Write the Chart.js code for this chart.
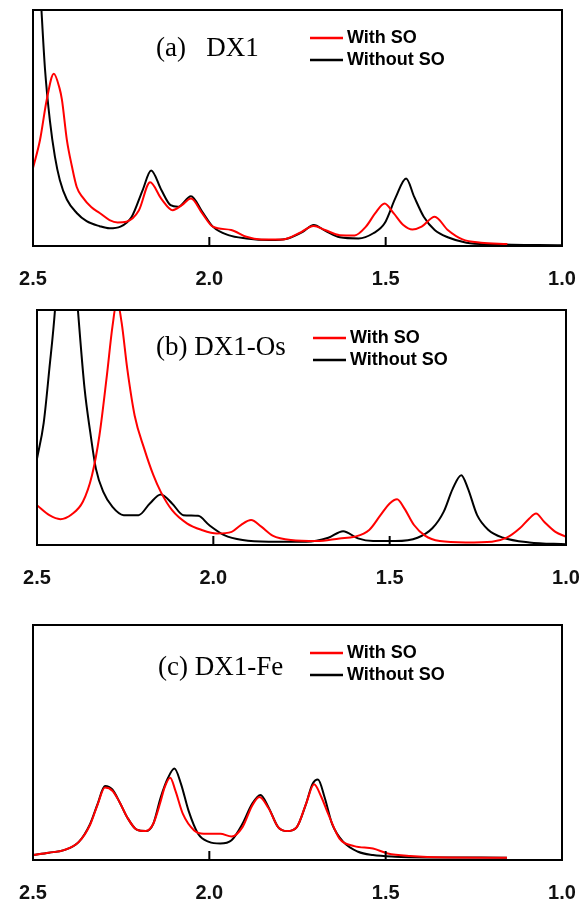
<!DOCTYPE html>
<html>
<head>
<meta charset="utf-8">
<script src="https://cdn.jsdelivr.net/npm/chart.js@4"></script>
<style>
  body { margin: 0; background: #fff; }
  canvas { display: block; }
</style>
</head>
<body>
<canvas id="chartA" width="585" height="300"></canvas>
<canvas id="chartB" width="585" height="300"></canvas>
<canvas id="chartC" width="585" height="305"></canvas>
<script>
// x ticks (energy axis, reversed)
xTicks = [2.5, 2.0, 1.5, 1.0]
seriesNames = ["With SO", "Without SO"]

// (a) DX1
aWithX = [2.5, 2.48, 2.461, 2.441, 2.425, 2.418, 2.404, 2.39, 2.376, 2.359, 2.335, 2.311, 2.283, 2.26, 2.235, 2.2, 2.168, 2.136, 2.104, 2.078, 2.052, 2.02, 1.99, 1.938, 1.895, 1.853, 1.79, 1.746, 1.704, 1.672, 1.63, 1.588, 1.556, 1.53, 1.503, 1.477, 1.45, 1.424, 1.398, 1.361, 1.324, 1.282, 1.23, 1.155]
aWithY = [33, 45, 62, 73, 67, 62, 45, 34, 25, 20.6, 16.5, 14, 11, 10, 10.3, 15, 27, 20, 15.2, 17.3, 20.1, 13.8, 8.2, 6.8, 3.9, 2.8, 2.8, 5.4, 8.5, 6.8, 4.6, 4.5, 8.2, 13.8, 18, 13.8, 8.9, 7, 8.2, 12.4, 6.8, 2.8, 1.4, 0.8]
aWithoutX = [2.49, 2.476, 2.466, 2.452, 2.438, 2.424, 2.404, 2.376, 2.348, 2.311, 2.283, 2.252, 2.22, 2.189, 2.165, 2.136, 2.11, 2.089, 2.052, 2.02, 1.99, 1.946, 1.895, 1.83, 1.777, 1.735, 1.704, 1.672, 1.63, 1.577, 1.535, 1.503, 1.471, 1.442, 1.419, 1.392, 1.361, 1.324, 1.271, 1.197, 1.0]
aWithoutY = [140, 100, 75, 53, 38, 28, 19.7, 14, 10.5, 8.4, 7.5, 8.2, 12.4, 23.7, 32, 23.7, 17.3, 16.6, 21.1, 14.5, 8.2, 4.6, 3.2, 2.5, 3.2, 6, 8.9, 6.5, 3.7, 3.2, 5.4, 9.6, 20.8, 28.6, 20.8, 12.4, 6.8, 3.7, 1.4, 0.7, 0.3]

// (b) DX1-Os
bWithX = [2.5, 2.465, 2.434, 2.402, 2.37, 2.344, 2.323, 2.302, 2.286, 2.273, 2.26, 2.244, 2.223, 2.196, 2.17, 2.149, 2.117, 2.075, 2.033, 1.99, 1.948, 1.922, 1.893, 1.864, 1.832, 1.78, 1.706, 1.642, 1.6, 1.558, 1.526, 1.5, 1.479, 1.458, 1.431, 1.4, 1.358, 1.284, 1.21, 1.168, 1.131, 1.104, 1.085, 1.062, 1.03, 1.0]
bWithY = [16.9, 12.7, 11, 13, 18.4, 29.7, 46.6, 72, 93, 104, 94.6, 74.9, 55, 41, 29.7, 22.6, 14.8, 9.2, 6.4, 4.9, 5.6, 8.5, 10.6, 7.8, 4, 2.1, 1.7, 2.8, 3.5, 6.4, 12.7, 17.7, 19.5, 15.5, 8.5, 4, 1.7, 1.1, 1.4, 3.1, 7.1, 11.3, 13.4, 9.9, 5.6, 3.5]
bWithoutX = [2.5, 2.481, 2.465, 2.449, 2.42, 2.384, 2.365, 2.349, 2.333, 2.312, 2.286, 2.254, 2.212, 2.18, 2.149, 2.117, 2.085, 2.043, 2.012, 1.969, 1.917, 1.843, 1.737, 1.674, 1.632, 1.59, 1.547, 1.484, 1.421, 1.379, 1.347, 1.321, 1.297, 1.278, 1.252, 1.22, 1.178, 1.104, 1.0]
bWithoutY = [36.7, 52, 74.9, 100, 170, 100, 66.4, 48, 32.5, 22.6, 16.2, 12.7, 12.7, 17.7, 21.5, 17.7, 12.7, 12.4, 8.5, 4.2, 2.1, 1.4, 1.4, 3.1, 5.9, 2.8, 1.7, 1.7, 3.1, 7.1, 14.1, 24, 29.7, 24, 12.7, 6.4, 3.1, 1.1, 0.3]

// (c) DX1-Fe
cWithX = [2.5, 2.455, 2.412, 2.37, 2.338, 2.317, 2.296, 2.275, 2.254, 2.233, 2.206, 2.18, 2.159, 2.138, 2.127, 2.111, 2.096, 2.075, 2.043, 2.016, 1.969, 1.937, 1.906, 1.879, 1.858, 1.832, 1.805, 1.779, 1.752, 1.726, 1.703, 1.683, 1.663, 1.631, 1.589, 1.536, 1.494, 1.43, 1.325, 1.156]
cWithY = [2.1, 3.1, 4.2, 7.7, 15, 23.5, 30.8, 29.5, 24.5, 18.2, 12.9, 12.3, 15.4, 25, 30.8, 35, 29.4, 19.6, 12.6, 11.2, 11.2, 10, 14, 23, 26.8, 22, 14, 12.3, 14, 23.8, 32.2, 27, 19.6, 9.1, 5.9, 4.9, 2.8, 1.7, 1.1, 1]
cWithoutX = [2.5, 2.455, 2.412, 2.37, 2.338, 2.317, 2.296, 2.275, 2.254, 2.233, 2.206, 2.18, 2.159, 2.138, 2.117, 2.099, 2.08, 2.059, 2.032, 2.001, 1.969, 1.937, 1.906, 1.879, 1.855, 1.832, 1.805, 1.779, 1.752, 1.726, 1.708, 1.692, 1.673, 1.652, 1.62, 1.578, 1.536, 1.473, 1.377, 1.156]
cWithoutY = [2.1, 3.1, 4.2, 7.7, 15.4, 23.8, 31.5, 30, 24.5, 18.2, 12.9, 12.3, 15.4, 26.6, 35, 38.9, 32.2, 21, 11.2, 7.7, 7, 8.4, 15.4, 23.8, 27.7, 22.4, 14, 12.3, 14, 23.8, 32.2, 34.3, 26.6, 15.4, 7.7, 3.5, 2.1, 1.4, 1.1, 1]

panels = [
    { id: "chartA", title: "(a)   DX1", withX: aWithX, withY: aWithY, withoutX: aWithoutX, withoutY: aWithoutY,
      pad: { left: 33, right: 23, top: 10, bottom: 9 }, titlePos: [156, 56], legendPos: [310, 38] },
    { id: "chartB", title: "(b) DX1-Os", withX: bWithX, withY: bWithY, withoutX: bWithoutX, withoutY: bWithoutY,
      pad: { left: 37, right: 19, top: 10, bottom: 10 }, titlePos: [156, 55], legendPos: [313, 38] },
    { id: "chartC", title: "(c) DX1-Fe", withX: cWithX, withY: cWithY, withoutX: cWithoutX, withoutY: cWithoutY,
      pad: { left: 33, right: 23, top: 25, bottom: 0 }, titlePos: [158, 75], legendPos: [310, 53] }
]

function toPoints(xs, ys) {
    return xs.map((x, i) => ({ x: x, y: ys[i] }))
}

// frame, inward ticks, panel title and legend
const decorations = {
    id: "decorations",
    afterDraw(chart, args, opts) {
        const ctx = chart.ctx
        const area = chart.chartArea
        const xs = chart.scales.x
        ctx.save()
        ctx.strokeStyle = "#000"
        ctx.lineWidth = 2
        ctx.strokeRect(area.left, area.top, area.right - area.left, area.bottom - area.top)
        xTicks.slice(1, -1).forEach((v) => {
            const px = xs.getPixelForValue(v)
            ctx.beginPath()
            ctx.moveTo(px, area.bottom)
            ctx.lineTo(px, area.bottom - 9)
            ctx.stroke()
        })
        ctx.fillStyle = "#000"
        ctx.font = "27px 'Liberation Serif', serif"
        ctx.textBaseline = "alphabetic"
        ctx.fillText(opts.title, opts.titlePos[0], opts.titlePos[1])

        ctx.font = "bold 18px 'Liberation Sans', sans-serif"
        ctx.textBaseline = "middle"
        chart.data.datasets.forEach((ds, i) => {
            const y = opts.legendPos[1] + i * 22
            ctx.strokeStyle = ds.borderColor
            ctx.lineWidth = 2.5
            ctx.beginPath()
            ctx.moveTo(opts.legendPos[0], y)
            ctx.lineTo(opts.legendPos[0] + 33, y)
            ctx.stroke()
            ctx.fillStyle = "#000"
            ctx.fillText(ds.label, opts.legendPos[0] + 37, y)
        })
        ctx.restore()
    }
}

panels.forEach((p) => {
    new Chart(document.getElementById(p.id), {
        type: "line",
        data: {
            datasets: [
                { label: seriesNames[0], data: toPoints(p.withX, p.withY), borderColor: "#ff0000" },
                { label: seriesNames[1], data: toPoints(p.withoutX, p.withoutY), borderColor: "#000000" }
            ]
        },
        options: {
            responsive: false,
            animation: false,
            parsing: false,
            layout: { padding: p.pad },
            elements: {
                point: { radius: 0 },
                line: { borderWidth: 2, cubicInterpolationMode: "monotone" }
            },
            scales: {
                x: {
                    type: "linear",
                    reverse: true,
                    min: 1.0,
                    max: 2.5,
                    afterBuildTicks: (scale) => { scale.ticks = xTicks.map((v) => ({ value: v })) },
                    afterFit: (scale) => {
                        scale.height = 45
                        scale.paddingLeft = 0
                        scale.paddingRight = 0
                    },
                    grid: { display: false, drawTicks: false },
                    border: { display: false },
                    ticks: {
                        padding: 21,
                        color: "#111",
                        maxRotation: 0,
                        autoSkip: false,
                        font: { family: "'Liberation Sans', sans-serif", size: 20, weight: "bold" },
                        callback: (v) => Number(v).toFixed(1)
                    }
                },
                y: { display: false, min: 0, max: 100 }
            },
            plugins: {
                legend: { display: false },
                tooltip: { enabled: false },
                decorations: { title: p.title, titlePos: p.titlePos, legendPos: p.legendPos }
            }
        },
        plugins: [decorations]
    })
})
</script>
</body>
</html>
